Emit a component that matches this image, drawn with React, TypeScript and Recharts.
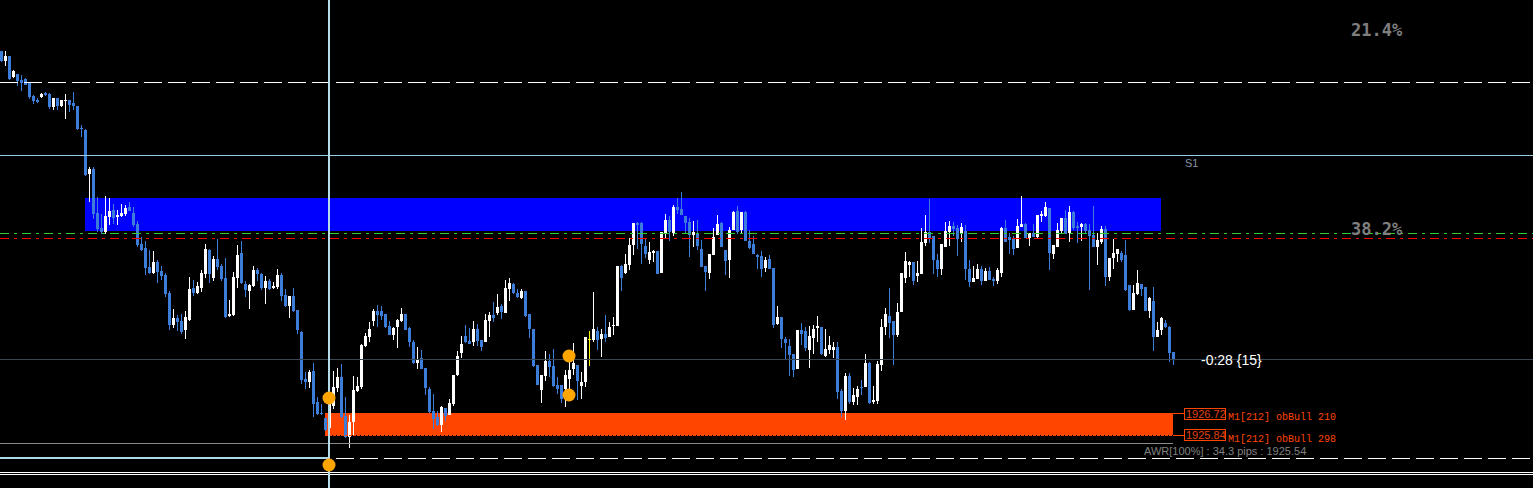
import React from 'react';
import { ComposedChart, Bar, XAxis, YAxis, ReferenceLine, ReferenceArea, ReferenceDot } from 'recharts';

const W = 1533;
const H = 488;
const X_DOMAIN: [number, number] = [-0.375, 382.875];
const Y_DOMAIN: [number, number] = [1923.72, 1943.24];

const openP = [
  1941.20, 1940.80, 1941.00, 1940.16, 1940.28, 1940.04, 1940.08, 1939.96, 1939.40, 1939.24,
  1939.36, 1939.52, 1939.48, 1938.96, 1939.32, 1939.00, 1939.20, 1939.24, 1939.12, 1939.00,
  1938.12, 1938.04, 1936.28, 1936.48, 1934.72, 1934.12, 1933.96, 1934.56, 1934.84, 1934.56,
  1934.60, 1934.68, 1934.96, 1934.72, 1934.28, 1933.48, 1933.32, 1932.56, 1932.32, 1932.76,
  1932.40, 1932.24, 1931.52, 1930.24, 1930.52, 1930.40, 1930.04, 1930.44, 1931.72, 1931.52,
  1931.72, 1932.28, 1933.24, 1932.12, 1932.88, 1932.60, 1932.12, 1930.60, 1930.64, 1932.12,
  1933.12, 1931.88, 1931.60, 1931.80, 1932.44, 1932.28, 1931.72, 1932.00, 1931.72, 1931.76,
  1932.24, 1931.44, 1931.00, 1931.40, 1930.84, 1929.96, 1928.08, 1927.96, 1928.40, 1927.16,
  1926.72, 1926.52, 1926.12, 1927.00, 1927.72, 1928.16, 1926.60, 1925.76, 1926.36, 1927.60,
  1927.76, 1929.40, 1929.76, 1930.40, 1930.80, 1930.80, 1930.68, 1930.20, 1929.84, 1930.16,
  1930.40, 1930.68, 1930.12, 1929.56, 1928.72, 1928.92, 1928.52, 1927.68, 1926.80, 1926.56,
  1926.24, 1926.92, 1926.64, 1927.08, 1928.24, 1929.12, 1929.80, 1929.60, 1929.56, 1930.08,
  1929.64, 1929.56, 1930.40, 1930.64, 1930.72, 1931.00, 1930.72, 1931.68, 1931.88, 1931.52,
  1931.32, 1931.60, 1930.68, 1930.08, 1928.64, 1927.64, 1928.20, 1928.80, 1928.60, 1927.84,
  1927.84, 1927.68, 1928.08, 1928.48, 1928.64, 1927.80, 1927.96, 1929.68, 1929.64, 1930.00,
  1929.68, 1929.88, 1929.76, 1930.20, 1930.20, 1932.60, 1932.32, 1932.64, 1933.44, 1934.32,
  1934.32, 1933.40, 1932.84, 1933.12, 1933.20, 1932.32, 1933.88, 1934.44, 1933.92, 1934.96,
  1934.88, 1934.60, 1934.36, 1933.84, 1933.92, 1933.28, 1932.60, 1932.32, 1933.04, 1933.84,
  1934.32, 1933.24, 1932.84, 1934.04, 1934.80, 1934.04, 1934.76, 1933.60, 1933.48, 1933.04,
  1933.00, 1932.52, 1932.88, 1932.52, 1930.28, 1930.56, 1929.68, 1929.40, 1929.08, 1928.48,
  1930.04, 1930.00, 1929.24, 1929.72, 1930.12, 1930.16, 1929.00, 1929.24, 1929.24, 1929.36,
  1927.60, 1926.80, 1928.20, 1927.16, 1927.36, 1927.76, 1927.76, 1928.72, 1927.16, 1927.20,
  1928.64, 1930.16, 1930.60, 1930.40, 1929.84, 1930.76, 1932.12, 1932.64, 1932.76, 1932.20,
  1932.28, 1933.52, 1933.96, 1933.80, 1932.84, 1932.48, 1933.36, 1933.96, 1934.20, 1934.12,
  1933.88, 1934.00, 1932.48, 1931.96, 1932.08, 1932.48, 1932.00, 1932.40, 1932.08, 1932.00,
  1932.32, 1934.12, 1933.76, 1933.72, 1933.32, 1934.16, 1934.28, 1933.72, 1933.92, 1933.76,
  1934.60, 1934.60, 1934.92, 1933.08, 1933.36, 1934.00, 1934.52, 1933.92, 1934.76, 1934.20,
  1934.16, 1934.28, 1934.04, 1933.84, 1933.36, 1933.56, 1934.08, 1932.16, 1932.92, 1933.08,
  1933.12, 1933.04, 1931.84, 1930.84, 1931.48, 1931.88, 1931.76, 1930.80, 1931.20, 1929.76,
  1930.04, 1930.32, 1930.16, 1929.16,
];

const highP = [
  1941.20, 1941.20, 1941.00, 1940.44, 1940.28, 1940.24, 1940.12, 1939.96, 1939.44, 1939.32,
  1939.52, 1939.56, 1939.52, 1939.32, 1939.32, 1939.24, 1939.48, 1939.24, 1939.56, 1939.00,
  1938.24, 1938.08, 1936.56, 1936.56, 1935.36, 1934.68, 1935.40, 1935.32, 1935.08, 1934.84,
  1935.08, 1935.04, 1935.16, 1934.96, 1934.40, 1933.76, 1933.60, 1933.24, 1933.20, 1932.84,
  1932.60, 1932.32, 1931.60, 1930.88, 1930.64, 1930.68, 1930.80, 1932.16, 1932.04, 1931.96,
  1932.44, 1933.48, 1933.28, 1933.00, 1933.68, 1932.68, 1932.92, 1931.24, 1932.36, 1933.44,
  1933.60, 1932.00, 1931.88, 1932.60, 1932.52, 1932.32, 1932.20, 1932.08, 1931.96, 1932.48,
  1932.32, 1931.68, 1931.40, 1931.72, 1930.84, 1930.00, 1928.36, 1928.44, 1928.72, 1927.36,
  1927.08, 1926.52, 1927.44, 1928.40, 1928.52, 1928.68, 1927.36, 1926.64, 1928.20, 1928.16,
  1929.48, 1929.92, 1930.36, 1930.88, 1931.04, 1931.00, 1930.68, 1930.40, 1930.16, 1930.48,
  1930.92, 1930.68, 1930.16, 1929.64, 1929.36, 1929.24, 1928.52, 1927.76, 1927.48, 1926.80,
  1927.00, 1926.92, 1927.28, 1928.24, 1929.20, 1929.80, 1930.24, 1930.12, 1930.40, 1930.28,
  1929.64, 1930.68, 1930.76, 1931.16, 1931.48, 1931.08, 1932.04, 1932.12, 1931.92, 1931.68,
  1931.68, 1931.60, 1930.68, 1930.08, 1928.64, 1928.24, 1929.20, 1929.08, 1929.28, 1928.16,
  1927.84, 1928.44, 1929.00, 1929.52, 1928.64, 1928.36, 1929.76, 1930.00, 1931.56, 1930.16,
  1930.08, 1930.64, 1930.36, 1930.56, 1932.60, 1932.64, 1933.08, 1933.72, 1934.32, 1934.36,
  1934.36, 1933.72, 1933.56, 1933.24, 1933.20, 1933.96, 1934.68, 1934.60, 1935.04, 1935.32,
  1935.56, 1934.60, 1934.52, 1934.40, 1934.44, 1933.64, 1932.60, 1933.08, 1934.12, 1934.64,
  1934.36, 1933.24, 1934.16, 1934.80, 1935.00, 1934.76, 1934.80, 1934.04, 1933.80, 1933.08,
  1933.20, 1932.96, 1933.04, 1932.52, 1931.00, 1930.56, 1929.76, 1929.68, 1929.08, 1930.04,
  1930.32, 1930.16, 1930.20, 1930.24, 1930.60, 1930.16, 1930.08, 1929.80, 1929.56, 1929.56,
  1927.68, 1928.32, 1928.32, 1927.72, 1927.80, 1928.04, 1929.08, 1928.76, 1927.80, 1928.80,
  1930.48, 1930.92, 1931.72, 1930.40, 1931.12, 1932.32, 1933.16, 1932.80, 1932.76, 1932.80,
  1934.12, 1934.64, 1935.28, 1933.80, 1933.08, 1933.48, 1934.36, 1934.40, 1934.36, 1934.24,
  1934.32, 1934.24, 1932.84, 1932.60, 1932.68, 1932.60, 1932.52, 1932.56, 1932.16, 1932.52,
  1934.16, 1934.44, 1933.92, 1933.80, 1934.48, 1935.40, 1934.32, 1933.92, 1934.28, 1934.64,
  1934.80, 1935.16, 1934.92, 1933.44, 1934.32, 1934.52, 1934.84, 1935.00, 1934.80, 1934.36,
  1934.32, 1934.32, 1934.28, 1935.00, 1933.92, 1934.20, 1934.20, 1932.92, 1933.68, 1933.28,
  1933.20, 1933.64, 1931.84, 1931.84, 1932.44, 1931.88, 1931.76, 1931.36, 1931.76, 1930.36,
  1930.56, 1930.44, 1930.20, 1929.16,
];

const lowP = [
  1940.76, 1940.60, 1940.04, 1940.12, 1939.80, 1939.60, 1939.84, 1939.28, 1939.08, 1939.12,
  1939.32, 1939.40, 1938.88, 1938.84, 1938.84, 1938.96, 1938.48, 1938.76, 1938.84, 1938.04,
  1937.76, 1936.20, 1935.16, 1934.48, 1933.96, 1933.88, 1933.88, 1934.24, 1934.28, 1934.24,
  1934.56, 1934.60, 1934.80, 1934.16, 1933.36, 1933.20, 1932.24, 1932.28, 1932.28, 1931.92,
  1932.04, 1931.36, 1930.04, 1930.12, 1930.00, 1929.88, 1929.68, 1930.40, 1931.40, 1931.48,
  1931.56, 1932.12, 1931.92, 1932.00, 1932.44, 1932.00, 1930.52, 1930.56, 1930.60, 1931.72,
  1931.88, 1931.36, 1930.88, 1931.76, 1932.00, 1931.64, 1931.08, 1931.64, 1931.68, 1931.68,
  1931.20, 1930.96, 1930.52, 1930.76, 1929.88, 1927.88, 1927.68, 1927.72, 1926.56, 1926.64,
  1926.64, 1926.00, 1925.96, 1926.88, 1927.56, 1926.52, 1925.72, 1925.32, 1925.84, 1927.56,
  1927.68, 1929.36, 1929.56, 1930.20, 1930.16, 1930.44, 1930.12, 1929.84, 1929.64, 1929.32,
  1930.36, 1930.04, 1929.36, 1928.68, 1928.48, 1928.48, 1927.44, 1926.72, 1926.08, 1926.20,
  1925.96, 1926.40, 1926.64, 1927.00, 1928.20, 1928.92, 1929.52, 1929.48, 1929.40, 1929.40,
  1929.20, 1929.56, 1929.76, 1930.36, 1930.64, 1930.48, 1930.72, 1931.20, 1931.48, 1931.32,
  1931.28, 1930.56, 1929.72, 1928.56, 1927.84, 1927.12, 1928.00, 1928.16, 1927.76, 1927.48,
  1927.12, 1926.96, 1927.68, 1928.24, 1927.24, 1927.28, 1927.76, 1928.60, 1929.56, 1929.24,
  1928.96, 1929.56, 1929.76, 1929.84, 1930.20, 1931.60, 1932.28, 1932.44, 1933.04, 1933.28,
  1932.68, 1932.92, 1932.68, 1932.76, 1932.28, 1932.32, 1933.68, 1933.60, 1933.80, 1934.68,
  1934.64, 1933.88, 1932.96, 1933.36, 1933.24, 1932.56, 1931.60, 1932.08, 1933.04, 1933.84,
  1933.36, 1932.24, 1932.12, 1934.04, 1933.88, 1933.88, 1933.60, 1933.28, 1933.08, 1932.48,
  1932.16, 1932.36, 1932.48, 1930.12, 1930.24, 1929.32, 1928.84, 1928.20, 1928.16, 1928.48,
  1929.44, 1929.20, 1928.52, 1929.08, 1929.56, 1929.04, 1928.96, 1929.08, 1928.92, 1927.28,
  1926.56, 1926.44, 1927.08, 1927.04, 1927.04, 1927.44, 1927.76, 1927.08, 1927.08, 1927.08,
  1928.40, 1929.84, 1929.72, 1928.64, 1929.76, 1930.76, 1931.92, 1932.16, 1931.84, 1931.96,
  1932.28, 1933.40, 1933.52, 1932.28, 1932.16, 1932.24, 1933.36, 1933.40, 1933.80, 1933.00,
  1933.56, 1932.04, 1931.76, 1931.96, 1932.08, 1931.84, 1932.00, 1932.04, 1931.80, 1931.88,
  1932.16, 1933.56, 1933.08, 1933.04, 1933.32, 1934.16, 1933.72, 1933.40, 1933.76, 1933.68,
  1934.36, 1934.56, 1932.44, 1932.88, 1933.36, 1933.88, 1933.88, 1933.56, 1934.04, 1933.52,
  1933.60, 1933.88, 1931.64, 1933.36, 1932.64, 1933.48, 1931.80, 1932.00, 1932.48, 1932.76,
  1932.76, 1931.60, 1930.80, 1930.84, 1931.44, 1931.40, 1930.80, 1930.52, 1929.20, 1929.76,
  1929.84, 1930.12, 1928.76, 1928.64,
];

const closeP = [
  1940.80, 1941.00, 1940.08, 1940.40, 1940.00, 1939.92, 1939.84, 1939.36, 1939.20, 1939.16,
  1939.48, 1939.44, 1938.96, 1939.32, 1939.00, 1939.24, 1939.24, 1939.04, 1939.00, 1938.08,
  1938.08, 1936.24, 1936.48, 1934.68, 1934.08, 1933.96, 1934.60, 1934.80, 1934.52, 1934.64,
  1934.72, 1934.92, 1934.80, 1934.24, 1933.44, 1933.24, 1932.52, 1932.32, 1932.76, 1932.36,
  1932.20, 1931.48, 1930.24, 1930.52, 1930.36, 1929.96, 1930.56, 1931.68, 1931.52, 1931.80,
  1932.32, 1933.28, 1932.28, 1932.88, 1932.56, 1932.08, 1930.56, 1930.68, 1932.16, 1933.04,
  1931.92, 1931.64, 1931.84, 1932.44, 1932.28, 1931.72, 1932.00, 1931.68, 1931.80, 1932.24,
  1931.40, 1931.00, 1931.40, 1930.80, 1930.04, 1928.04, 1927.96, 1928.36, 1927.08, 1926.68,
  1926.68, 1926.04, 1927.24, 1927.76, 1928.16, 1926.56, 1925.76, 1926.36, 1927.64, 1927.80,
  1929.44, 1929.80, 1930.08, 1930.80, 1930.64, 1930.60, 1930.16, 1929.84, 1930.12, 1930.44,
  1930.68, 1930.04, 1929.56, 1928.72, 1928.88, 1928.48, 1927.72, 1926.76, 1926.48, 1926.24,
  1926.96, 1926.60, 1927.12, 1928.24, 1929.00, 1929.48, 1929.56, 1929.48, 1930.08, 1929.60,
  1929.36, 1930.44, 1930.64, 1930.52, 1930.96, 1930.76, 1931.72, 1931.92, 1931.52, 1931.36,
  1931.60, 1930.60, 1930.08, 1928.60, 1927.84, 1928.24, 1928.80, 1928.56, 1927.80, 1927.68,
  1927.28, 1928.24, 1928.44, 1928.72, 1928.00, 1927.96, 1929.76, 1929.68, 1930.08, 1929.64,
  1929.88, 1929.72, 1930.16, 1930.24, 1932.60, 1932.12, 1932.68, 1933.44, 1934.32, 1934.24,
  1933.48, 1933.08, 1933.16, 1933.20, 1932.28, 1933.96, 1934.44, 1933.96, 1934.96, 1934.84,
  1934.64, 1934.32, 1933.84, 1933.96, 1933.40, 1932.56, 1932.36, 1933.08, 1933.76, 1934.28,
  1933.36, 1932.80, 1934.04, 1934.76, 1933.96, 1934.76, 1933.60, 1933.32, 1933.08, 1932.96,
  1932.48, 1932.84, 1932.48, 1930.24, 1930.56, 1929.68, 1929.52, 1929.04, 1928.44, 1930.04,
  1929.88, 1929.32, 1929.80, 1930.08, 1930.20, 1929.08, 1929.28, 1929.44, 1929.36, 1927.56,
  1926.80, 1928.20, 1927.16, 1927.44, 1927.68, 1927.72, 1928.72, 1927.12, 1927.24, 1928.68,
  1930.16, 1930.68, 1930.32, 1929.84, 1930.76, 1932.32, 1932.80, 1932.76, 1932.00, 1932.32,
  1933.56, 1933.96, 1933.72, 1932.84, 1932.48, 1933.48, 1934.00, 1934.20, 1934.08, 1933.68,
  1934.16, 1932.48, 1931.96, 1932.12, 1932.48, 1932.00, 1932.40, 1932.04, 1932.00, 1932.44,
  1934.12, 1933.56, 1933.64, 1933.28, 1934.20, 1934.28, 1933.72, 1933.92, 1933.76, 1934.64,
  1934.68, 1934.96, 1933.12, 1933.44, 1934.04, 1934.52, 1933.88, 1934.76, 1934.12, 1934.12,
  1934.28, 1934.00, 1933.80, 1933.36, 1933.64, 1934.08, 1932.16, 1932.92, 1933.12, 1933.28,
  1932.84, 1931.64, 1930.84, 1931.52, 1931.92, 1931.68, 1930.80, 1931.32, 1929.76, 1930.04,
  1930.52, 1930.16, 1929.12, 1928.84,
];

// horizontal levels (price)
const LEVEL_FIB_21 = 1939.96;
const LEVEL_S1 = 1937.04;
const LEVEL_FIB_38_GREEN = 1933.92;
const LEVEL_FIB_38_RED = 1933.72;
const LEVEL_BID = 1928.88;
const LEVEL_AWR = 1925.52;
const LEVEL_LOW_DASH = 1924.92;
const LEVEL_BOTTOM = [1924.34, 1924.26];

// zones: [start index, end index, top price, bottom price]
const supplyZone = [20.875, 289.875, 1935.32, 1934.0];
const obZone = [80.875, 292.875, 1926.72, 1925.84];
const obLevels = [1926.72, 1925.82];
const obLabelIndex = 295.625;

const cursorIndex = 81.875;
const swingDotIdx = [81.875, 81.875, 141.875, 141.875];
const swingDotPrice = [1927.32, 1924.64, 1929.0, 1927.44];

const rows = openP.map((o, i) => ({
  i,
  open: o,
  high: highP[i],
  low: lowP[i],
  close: closeP[i],
  range: [lowP[i], highP[i]],
}));

const BEAR = '#3b7dd8';
const BULL = '#ffffff';
const DOJI = '#ffff00';

const Candle = (props: any) => {
  const { x, y, width, height, payload } = props;
  if (!payload || x == null) return null;
  const { open, close, high, low } = payload;
  const top = Math.min(y, y + height);
  const h = Math.abs(height);
  const span = high - low || 1;
  const ratio = h / span;
  const yo = top + (high - open) * ratio;
  const yc = top + (high - close) * ratio;
  const color = open === close ? DOJI : close > open ? BULL : BEAR;
  const bTop = Math.min(yo, yc);
  const bH = Math.max(1, Math.abs(yo - yc));
  const cx = x + width / 2;
  return (
    <g>
      <line x1={cx} x2={cx} y1={top} y2={top + h} stroke={color} strokeWidth={1} />
      <rect x={x} y={bTop} width={width} height={bH} fill={color} />
    </g>
  );
};

export default function App() {
  const sans = 'Liberation Sans, Arial, sans-serif';
  return (
    <div style={{ position: 'relative', width: W, height: H, background: '#000', overflow: 'hidden' }}>
      <style>{'body{margin:0;background:#000} .recharts-wrapper line, .recharts-wrapper rect, .recharts-wrapper path:not(.recharts-dot) { shape-rendering: crispEdges; }'}</style>
      <ComposedChart width={W} height={H} data={rows} margin={{ top: 0, right: 0, bottom: 0, left: 0 }}>
        <XAxis dataKey="i" type="number" domain={X_DOMAIN} allowDataOverflow hide />
        <YAxis type="number" domain={Y_DOMAIN} allowDataOverflow hide />
        <ReferenceArea x1={supplyZone[0]} x2={supplyZone[1]} y1={supplyZone[2]} y2={supplyZone[3]} fill="#0000ff" fillOpacity={1} stroke="none" ifOverflow="visible" />
        <ReferenceArea x1={obZone[0]} x2={obZone[1]} y1={obZone[2]} y2={obZone[3]} fill="#ff4500" fillOpacity={1} stroke="none" ifOverflow="visible" />
        <ReferenceLine y={LEVEL_FIB_21} stroke="#ffffff" strokeDasharray="18 6" strokeWidth={1} />
        <ReferenceLine y={LEVEL_S1} stroke="#9ccbe6" strokeWidth={1} />
        <ReferenceLine y={LEVEL_FIB_38_GREEN} stroke="#32cd32" strokeDasharray="9 5 3 5" strokeWidth={1} />
        <ReferenceLine y={LEVEL_FIB_38_RED} stroke="#ff0000" strokeDasharray="9 5 3 5" strokeWidth={1} />
        <ReferenceLine y={LEVEL_BID} stroke="#3a4654" strokeWidth={1} />
        <ReferenceLine segment={[{ x: X_DOMAIN[0], y: LEVEL_AWR }, { x: obZone[1], y: LEVEL_AWR }]} stroke="#8a8a8a" strokeWidth={1} />
        <ReferenceLine y={LEVEL_LOW_DASH} stroke="#ffffff" strokeDasharray="18 6" strokeWidth={1} />
        <ReferenceLine segment={[{ x: X_DOMAIN[0], y: LEVEL_LOW_DASH }, { x: cursorIndex, y: LEVEL_LOW_DASH }]} stroke="#add8e6" strokeWidth={1.5} />
        <ReferenceLine y={LEVEL_BOTTOM[0]} stroke="#ffffff" strokeWidth={1} />
        <ReferenceLine y={LEVEL_BOTTOM[1]} stroke="#ffffff" strokeWidth={1} />
        <ReferenceLine segment={[{ x: obZone[0], y: obLevels[1] }, { x: obZone[1], y: obLevels[1] }]} stroke="#ff4500" strokeDasharray="3 1" strokeWidth={1.5} />
        <ReferenceLine segment={[{ x: obZone[1], y: obLevels[0] }, { x: obLabelIndex, y: obLevels[0] }]} stroke="#ff4500" strokeWidth={1} />
        <ReferenceLine segment={[{ x: obZone[1], y: obLevels[1] }, { x: obLabelIndex, y: obLevels[1] }]} stroke="#ff4500" strokeWidth={1} />
        <Bar dataKey="range" barSize={3} shape={<Candle />} isAnimationActive={false} />
        <ReferenceLine x={cursorIndex} stroke="#b4dcea" strokeWidth={2} />
        {swingDotIdx.map((ix, k) => (
          <ReferenceDot key={k} x={ix} y={swingDotPrice[k]} r={6.5} fill="#ffa500" stroke="none" ifOverflow="visible" />
        ))}
      </ComposedChart>
      <svg width={W} height={H} style={{ position: 'absolute', left: 0, top: 0, pointerEvents: 'none' }}>
        <text x={1351} y={36} fill="#7f7f7f" fontFamily="DejaVu Sans Mono, monospace" fontWeight="bold" fontSize={17}>21.4%</text>
        <text x={1351} y={235} fill="#7f7f7f" fontFamily="DejaVu Sans Mono, monospace" fontWeight="bold" fontSize={17}>38.2%</text>
        <text x={1185} y={167} fill="#8796a5" fontFamily={sans} fontSize={11}>S1</text>
        <text x={1201} y={364.5} fill="#ffffff" fontFamily={sans} fontSize={14}>-0:28 {'{15}'}</text>
        <rect x={1184.5} y={408.5} width={41} height={11} fill="none" stroke="#ff4500" strokeWidth={1} />
        <text x={1186} y={418} fill="#e0400f" fontFamily={sans} fontSize={11}>1926.72</text>
        <text x={1228} y={420} fill="#ff4500" fontFamily="Liberation Mono, monospace" fontSize={10}>M1[212] obBull 210</text>
        <rect x={1184.5} y={429.5} width={41} height={11} fill="none" stroke="#ff4500" strokeWidth={1} />
        <text x={1186} y={439} fill="#e0400f" fontFamily={sans} fontSize={11}>1925.84</text>
        <text x={1228} y={442} fill="#ff4500" fontFamily="Liberation Mono, monospace" fontSize={10}>M1[212] obBull 298</text>
        <text x={1144} y={454.5} fill="#808080" fontFamily={sans} fontSize={11}>AWR[100%] : 34.3 pips : 1925.54</text>
      </svg>
    </div>
  );
}
